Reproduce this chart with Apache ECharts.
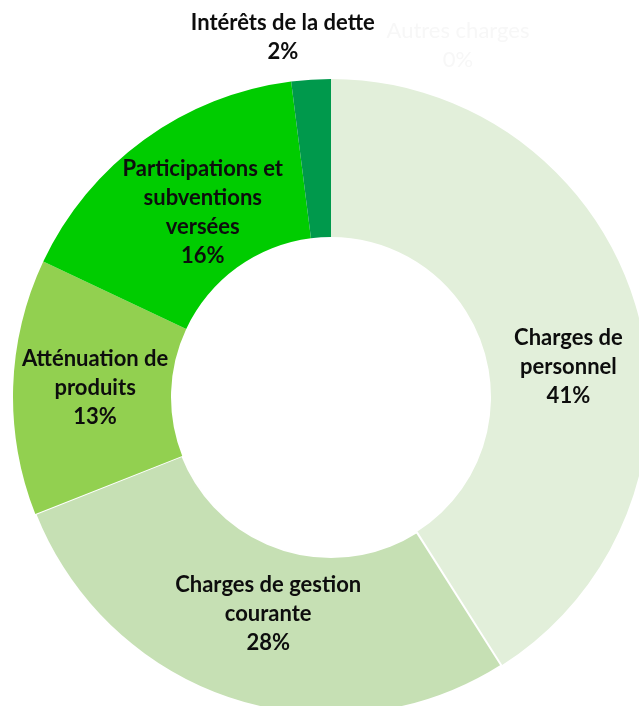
<!DOCTYPE html>
<html>
<head>
<meta charset="utf-8">
<script src="https://cdn.jsdelivr.net/npm/echarts@6/dist/echarts.min.js"></script>
<style>
  html, body { margin: 0; padding: 0; background: #ffffff; }
  #chart { width: 639px; height: 706px; }
</style>
</head>
<body>
<div id="chart"></div>
<script>
// Répartition des dépenses de fonctionnement (en % du total)
const categories = [
  'Charges de\npersonnel',
  'Charges de gestion\ncourante',
  'Atténuation de\nproduits',
  'Participations et\nsubventions\nversées',
  'Intérêts de la dette',
  'Autres charges'
];
const shares = [41, 28, 13, 16, 2, 0];
const sliceColors = ['#e2efda', '#c6e0b4', '#92d050', '#00cc00', '#00994c', '#ffffff'];

// per-slice label placement tweaks
const labelOffsets = [[5, 37], [12, -13], [6, -1], [14, 11], [-33, -118], [127, -110]];
const labelColors = ['#0d0d0d', '#0d0d0d', '#0d0d0d', '#0d0d0d', '#0d0d0d', '#f7f7f7'];
const labelWeights = ['bold', 'bold', 'bold', 'bold', 'bold', 'normal'];

const data = categories.map((name, i) => ({
  name: name,
  value: shares[i],
  itemStyle: {
    color: sliceColors[i],
    borderColor: '#ffffff',
    borderWidth: i === 1 ? 2 : 0
  },
  label: {
    offset: labelOffsets[i],
    color: labelColors[i],
    fontWeight: labelWeights[i]
  }
}));

const chart = echarts.init(document.getElementById('chart'), null, { renderer: 'canvas' });
chart.setOption({
  animation: false,
  backgroundColor: '#ffffff',
  series: [{
    type: 'pie',
    center: [331, 397],
    radius: [160, 318],
    startAngle: 90,
    clockwise: true,
    avoidLabelOverlap: false,
    stillShowZeroSum: true,
    label: {
      show: true,
      position: 'inside',
      fontFamily: 'Lato, "Noto Sans", sans-serif',
      fontSize: 22,
      lineHeight: 29,
      align: 'center',
      formatter: p => p.name + '\n' + p.value + '%'
    },
    labelLine: { show: false },
    emphasis: { disabled: true },
    data: data
  }]
});
</script>
</body>
</html>
